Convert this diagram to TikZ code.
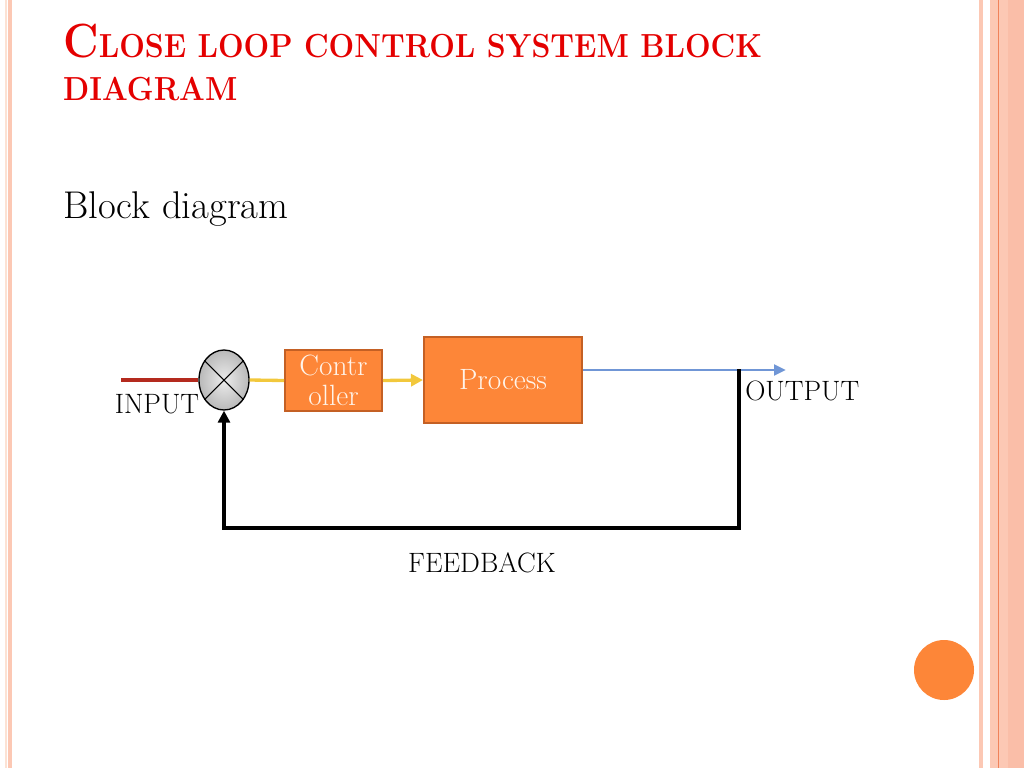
\documentclass[tikz,border=0pt]{standalone}
\usetikzlibrary{arrows.meta,shapes.geometric}
\definecolor{titlered}{RGB}{228,0,0}
\definecolor{boxorange}{RGB}{253,134,56}
\definecolor{boxedge}{RGB}{196,96,36}
\definecolor{boxtext}{RGB}{255,244,234}
\definecolor{inred}{RGB}{180,42,30}
\definecolor{wireyellow}{RGB}{242,200,60}
\definecolor{wireblue}{RGB}{112,150,214}
\definecolor{stripe}{RGB}{252,200,180}
\definecolor{stripepale}{RGB}{252,226,212}
\definecolor{stripedark}{RGB}{250,190,168}
\definecolor{stripeline}{RGB}{240,130,90}
\tikzset{
  blockbox/.style={draw=boxedge, line width=1.5pt, fill=boxorange, text=boxtext, align=center, inner sep=0pt},
  sumj/.style={ellipse, draw=black, line width=1pt, inner color=gray!15, outer color=gray!55, minimum width=37.5pt, minimum height=45pt, inner sep=0pt},
  lbl/.style={font=\fontsize{21}{24}\selectfont, inner sep=0pt},
  fbwire/.style={line width=3pt, black},
}
\begin{document}
\begin{tikzpicture}[x=0.75pt,y=-0.75pt]
\useasboundingbox (0,0) rectangle (1024,768);
% side stripes
\fill[stripepale] (5,0) rectangle (7,768);
\fill[stripe] (8,0) rectangle (12,768);
\fill[stripe] (979,0) rectangle (983,768);
\fill[stripe] (990,0) rectangle (1008,768);
\fill[stripedark] (1008,0) rectangle (1024,768);
\fill[stripeline] (997.5,0) rectangle (998.8,768);
% title
\node[anchor=base west, inner sep=0pt, text=titlered, font=\bfseries, xscale=0.91] (t1) at (63,57)
  {\fontsize{36}{40}\selectfont C\fontsize{25}{28}\selectfont LOSE LOOP CONTROL SYSTEM BLOCK};
\node[anchor=base west, inner sep=0pt, text=titlered, font=\bfseries, xscale=0.91] (t2) at (63,100)
  {\fontsize{25}{28}\selectfont DIAGRAM};
\node[anchor=base west, inner sep=0pt, font=\fontsize{29}{34}\selectfont] (sub) at (63,218) {Block diagram};
% blocks
\node[sumj] (sum) at (224,380) {};
\draw[line width=0.8pt] (sum.45) -- (sum.225) (sum.135) -- (sum.315);
\node[blockbox, minimum width=72.75pt, minimum height=45.75pt, font=\fontsize{22}{22.5}\selectfont] (ctrl) at (333.5,380.5) {Contr\\oller};
\node[blockbox, minimum width=118.5pt, minimum height=64.5pt, font=\fontsize{22}{24}\selectfont] (proc) at (503,380) {Process};
\coordinate (inp) at (121,380);
\coordinate (outend) at (786,370);
\coordinate (tap) at (739,369);
\coordinate (fbr) at (739,528);
% wires
\draw[line width=2.5pt, inred] (inp) -- (sum.west);
\draw[line width=2.5pt, wireyellow] (sum.east) -- (ctrl.west);
\draw[line width=2.5pt, wireyellow, -{Triangle[length=9pt,width=9pt]}] (ctrl.east) -- (proc.west);
\draw[line width=2.2pt, wireblue, -{Triangle[length=9pt,width=8pt]}] ([yshift=7.5pt]proc.east) -- (outend);
\draw[fbwire, line join=miter, -{Triangle[length=9pt,width=9pt]}] (tap) -- (fbr) -| (sum.south);
% labels
\node[lbl, anchor=base] (inlbl) at (157,413) {INPUT};
\node[lbl, anchor=base west] (outlbl) at (745,400) {OUTPUT};
\node[lbl, anchor=base] (fblbl) at (482,572) {FEEDBACK};
% decoration circle
\fill[boxorange] (944,670) circle[radius=22.5pt];
\end{tikzpicture}
\end{document}
